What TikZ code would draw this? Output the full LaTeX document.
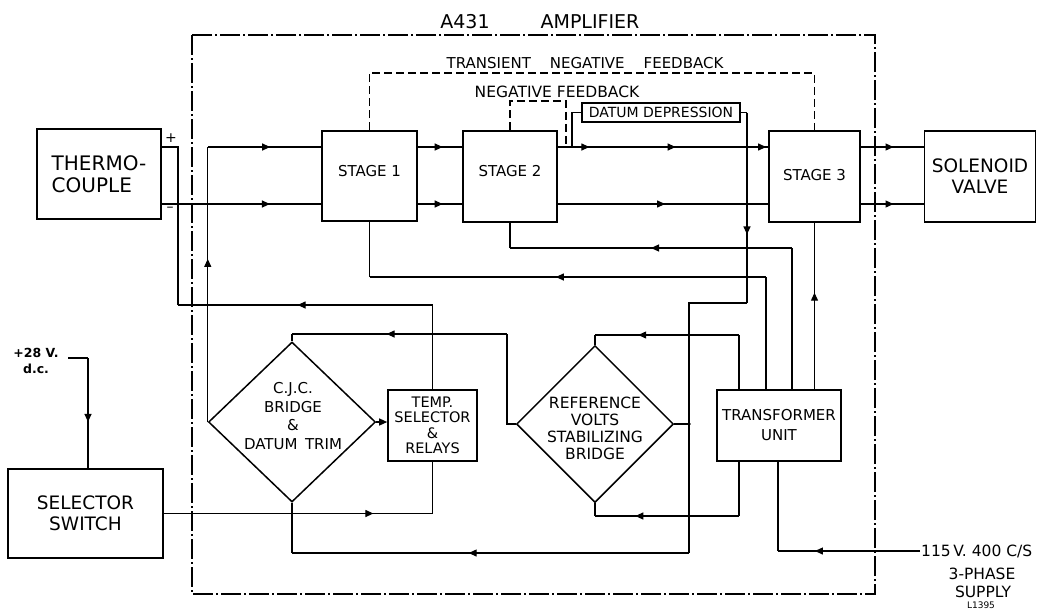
\documentclass[tikz,border=0pt]{standalone}
\usepackage{fontspec}
\setmainfont{DejaVu Sans}
\usetikzlibrary{shapes.geometric,arrows.meta,decorations.markings}
\begin{document}
\begin{tikzpicture}[x=1pt,y=-1pt,
  box/.style={draw,line width=1.6pt,rectangle,inner sep=0pt,align=center},
  dia/.style={draw,line width=1.5pt,diamond,inner sep=0pt},
  ln/.style={line width=1.2pt},
  fb/.style={line width=1.1pt,dash pattern=on 8pt off 4pt},
  bnd/.style={line width=1.3pt,dash pattern=on 20pt off 3pt on 2pt off 3pt},
  ar/.style={postaction={decorate,decoration={markings,mark=at position #1 with {\arrow{Triangle[length=8pt,width=7pt]}}}}},
  tip/.style={-{Triangle[length=8pt,width=7pt]}},
  big/.style={font=\fontsize{18.5}{21}\selectfont},
  mid/.style={font=\fontsize{15}{17}\selectfont},
  lab/.style={inner sep=0pt,align=center},
]
\useasboundingbox (0,0) rectangle (1038,614);

% amplifier boundary
\draw[bnd] (192,35) rectangle (875,594);
\node[lab,font=\fontsize{19}{21}\selectfont] (ta) at (465,22) {A431};
\node[lab,font=\fontsize{19}{21}\selectfont] (tb) at (590,22) {AMPLIFIER};

% blocks
\node[box,font=\fontsize{20}{22}\selectfont,align=left,minimum width=124pt,minimum height=90pt] (tc) at (99,174) {THERMO-\\COUPLE};
\node[box,mid,minimum width=95pt,minimum height=90pt] (s1) at (369.5,176) {\raisebox{5pt}[\height][\depth]{STAGE 1}};
\node[box,mid,minimum width=94pt,minimum height=91pt] (s2) at (510,176.5) {\raisebox{5pt}[\height][\depth]{STAGE 2}};
\node[box,mid,minimum width=91pt,minimum height=91pt] (s3) at (814.5,176.5) {\raisebox{1.5pt}[\height][\depth]{STAGE 3}};
\node[box,big,minimum width=111pt,minimum height=91pt] (sv) at (980,176.5) {SOLENOID\\VALVE};
\node[box,big,minimum width=155pt,minimum height=89pt] (ss) at (85.5,513.5) {SELECTOR\\SWITCH};
\node[box,font=\fontsize{14.5}{15.5}\selectfont,minimum width=89pt,minimum height=71pt] (ts) at (432.5,425.5) {TEMP.\\SELECTOR\\\&\\RELAYS};
\node[box,font=\fontsize{15}{20}\selectfont,minimum width=124pt,minimum height=71pt] (tu) at (779,425.5) {TRANSFORMER\\UNIT};
\node[box,line width=1.1pt,font=\fontsize{14}{16}\selectfont,minimum width=158pt,minimum height=19pt] (dd) at (661,112.5) {DATUM DEPRESSION};
\node[dia,minimum width=167pt,minimum height=160pt] (cjc) at (292,422) {};
\node[lab,font=\fontsize{15}{18.5}\selectfont] (cjct) at (293,416) {C.J.C.\\BRIDGE\\\&\\DATUM\enspace TRIM};
\node[dia,minimum width=157pt,minimum height=157pt] (rv) at (595,424) {};
\node[lab,font=\fontsize{15.5}{17}\selectfont] (rvt) at (595,428) {REFERENCE\\VOLTS\\STABILIZING\\BRIDGE};

% labels
\node[lab,font=\fontsize{15}{17}\selectfont] (ltnf) at (585,63) {TRANSIENT\hspace{19pt}NEGATIVE\hspace{19pt}FEEDBACK};
\node[lab,font=\fontsize{15.5}{17}\selectfont] (lnf) at (557,92) {NEGATIVE FEEDBACK};
\node[lab,font=\fontsize{14}{14}\selectfont] (lplus) at (171,138) {+};
\node[lab,font=\fontsize{14}{14}\selectfont] (lminus) at (170,209) {\textendash};
\node[lab,font=\bfseries\fontsize{12.5}{16}\selectfont] (v28) at (36,361) {+28 V.\\d.c.};
\node[inner sep=1pt,anchor=west,font=\fontsize{15.5}{18}\selectfont] (sup1) at (920,551) {115\,V. 400 C/S};
\node[lab,font=\fontsize{15.5}{18}\selectfont] (sup2) at (982,574) {3-PHASE};
\node[lab,font=\fontsize{15.5}{18}\selectfont] (sup3) at (983,592) {SUPPLY};
\node[lab,font=\fontsize{9}{10}\selectfont] (lid) at (981,605) {L1395};

% coordinates
\coordinate (tcP) at (161,147);
\coordinate (tcM) at (161,204);

% thermocouple - to stage 1
\draw[ln,ar=0.68] (tcM) -- (tcM -| s1.west);
% CJC bridge to stage 1
\coordinate (b1) at (cjc.west |- tcP);
\draw[ln,ar=0.593] (cjc.west) -- (b1);
\draw[ln,ar=0.55] (b1) -- (b1 -| s1.west);
% stage 1 -> stage 2
\draw[ln,ar=0.56] (s1.east |- tcP) -- (s2.west |- tcP);
\draw[ln,ar=0.56] (s1.east |- tcM) -- (s2.west |- tcM);
% stage 2 -> stage 3
\draw[ln,ar=0.15,ar=0.56,ar=0.99] (s2.east |- tcP) -- (s3.west |- tcP);
\draw[ln,ar=0.51] (s2.east |- tcM) -- (s3.west |- tcM);
% stage 3 -> solenoid
\draw[ln,ar=0.52] (s3.east |- tcP) -- (sv.west |- tcP);
\draw[ln,ar=0.52] (s3.east |- tcM) -- (sv.west |- tcM);

% transformer -> stage 1
\coordinate (g1) at (766,277);
\draw[ln] (tu.north -| g1) -- (g1);
\draw[ln,ar=0.53] (g1) -- (g1 -| s1.south);
\draw[ln] (g1 -| s1.south) -- (s1.south);
% transformer -> stage 2
\coordinate (h1) at (792,248);
\draw[ln] (tu.north -| h1) -- (h1);
\draw[ln,ar=0.50] (h1) -- (h1 -| s2.south);
\draw[ln] (h1 -| s2.south) -- (s2.south);
% transformer -> stage 3
\draw[ln,ar=0.58] (tu.north -| s3.south) -- (s3.south);
% transformer -> reference bridge top
\coordinate (j1) at (739,335);
\draw[ln] (tu.north -| j1) -- (j1);
\draw[ln,ar=0.70] (j1) -- (j1 -| rv.north);
\draw[ln] (j1 -| rv.north) -- (rv.north);
% transformer -> reference bridge bottom
\coordinate (k1) at (739,516);
\draw[ln] (tu.south -| k1) -- (k1);
\draw[ln,ar=0.72] (k1) -- (k1 -| rv.south);
\draw[ln] (k1 -| rv.south) -- (rv.south);
% supply -> transformer
\coordinate (l1) at (778,551);
\draw[ln,ar=0.74] (sup1.west) -- (l1);
\draw[ln] (l1) -- (tu.south -| l1);
% reference bridge -> CJC top
\coordinate (m1) at (507,424);
\coordinate (m2) at (507,334);
\draw[ln] (rv.west) -- (m1) -- (m2);
\draw[ln,ar=0.56] (m2) -- (m2 -| cjc.north);
\draw[ln] (m2 -| cjc.north) -- (cjc.north);
% CJC -> temp selector
\draw[ln,tip] (cjc.east) -- (ts.west |- cjc.east);
% temp selector -> thermocouple +
\coordinate (o2) at (178,305);
\coordinate (o1) at (ts.north |- o2);
\coordinate (o3) at (o2 |- tcP);
\draw[ln] (ts.north) -- (o1);
\draw[ln,ar=0.53] (o1) -- (o2);
\draw[ln] (o2) -- (o3) -- (tcP);
% selector switch -> temp selector
\draw[ln,ar=0.78] (ss.east) -- (ss.east -| ts.south);
\draw[ln] (ss.east -| ts.south) -- (ts.south);
% +28 V -> selector switch
\coordinate (q0) at (68,358);
\coordinate (q1) at (88,358);
\draw[ln] (q0) -- (q1);
\draw[ln,ar=0.58] (q1) -- (q1 |- ss.north);
% datum depression loop
\coordinate (r0) at (572,147);
\coordinate (r1) at (r0 |- dd.west);
\draw[ln] (r0) -- (r1) -- (dd.west);
\coordinate (r2) at (747,112.5);
\coordinate (r3) at (747,303);
\coordinate (r4) at (689,303);
\coordinate (r5) at (689,553);
\coordinate (r6) at (cjc.south |- r5);
\draw[ln] (dd.east) -- (r2);
\draw[ln,ar=0.64] (r2) -- (r3);
\draw[ln] (r3) -- (r4) -- (r5);
\draw[ln,ar=0.555] (r5) -- (r6);
\draw[ln] (r6) -- (cjc.south);
\draw[ln] (rv.east) -- (rv.east -| r4);
\fill (rv.east -| r4) circle (1.8pt);

% negative feedback (dashed)
\coordinate (nf1) at (510,101);
\coordinate (nf2) at (566,101);
\coordinate (nf3) at (566,147);
\draw[fb] (s2.north) -- (nf1) -- (nf2) -- (nf3);
% transient negative feedback (dashed)
\coordinate (tf1) at (369.5,73);
\coordinate (tf2) at (814.5,73);
\draw[fb] (s1.north) -- (tf1) -- (tf2) -- (s3.north);
\end{tikzpicture}
\end{document}
